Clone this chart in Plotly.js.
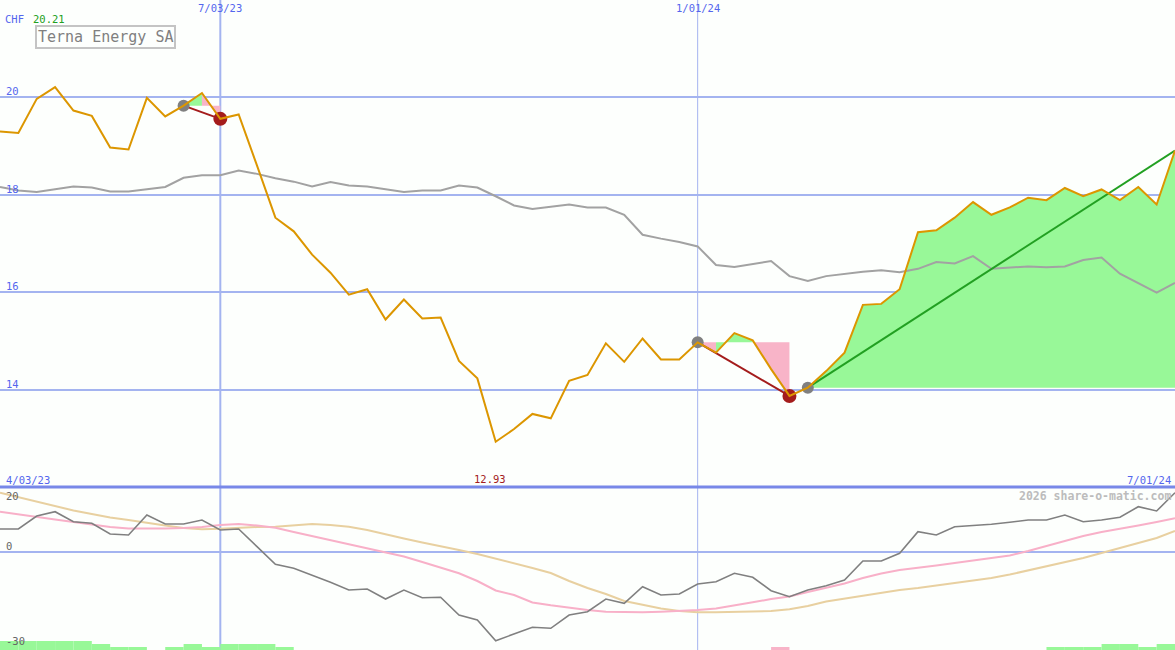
<!DOCTYPE html>
<html>
<head>
<meta charset="utf-8">
<script src="https://cdn.plot.ly/plotly-3.0.1.min.js"></script>
<style>
  html, body { margin: 0; padding: 0; background: #fdfffd; }
  #chart { width: 1175px; height: 650px; }
</style>
</head>
<body>
<div id="chart"></div>
<script>
// ---------------- DATA ----------------
const stockName = 'Terna Energy SA';
const currency = 'CHF';
const maxPriceLabel = '20.21';
const minPriceLabel = '12.93';
const firstDate = '2023-04-10';          // weekly observations (Mondays)
const nWeeks = 65;
const xTickDates = ['2023-07-03', '2024-01-01'];
const xTickText = ['7/03/23', '1/01/24'];
const startLabel = '4/03/23';
const endLabel = '7/01/24';
const priceTicks = [20, 18, 16, 14];
const oscTickLabels = ['20', '0', '-30'];

// weekly close price (CHF)
const price = [19.30, 19.27, 19.97, 20.21, 19.73, 19.62, 18.97, 18.93, 19.99, 19.61,
               19.83, 20.09, 19.56, 19.65, 18.60, 17.53, 17.25, 16.77, 16.40, 15.95,
               16.06, 15.44, 15.85, 15.46, 15.48, 14.59, 14.23, 12.93, 13.19, 13.50,
               13.41, 14.18, 14.30, 14.95, 14.57, 15.05, 14.62, 14.62, 14.97, 14.76,
               15.16, 15.01, 14.42, 13.87, 14.04, 14.38, 14.76, 15.74, 15.76, 16.06,
               17.23, 17.27, 17.53, 17.85, 17.59, 17.74, 17.94, 17.89, 18.14, 17.97,
               18.11, 17.89, 18.16, 17.80, 18.91];

// moving average of price (grey line)
const movingAvg = [18.16, 18.09, 18.06, 18.11, 18.17, 18.15, 18.07, 18.07, 18.11, 18.16,
                   18.35, 18.40, 18.40, 18.50, 18.43, 18.34, 18.27, 18.17, 18.26, 18.19,
                   18.17, 18.11, 18.06, 18.09, 18.09, 18.19, 18.15, 17.97, 17.78, 17.71,
                   17.76, 17.80, 17.74, 17.74, 17.59, 17.18, 17.10, 17.03, 16.94, 16.56,
                   16.52, 16.58, 16.64, 16.33, 16.23, 16.33, 16.38, 16.42, 16.45, 16.41,
                   16.48, 16.62, 16.59, 16.74, 16.48, 16.51, 16.53, 16.51, 16.53, 16.66,
                   16.71, 16.38, 16.18, 15.99, 16.19];

// lower panel: momentum oscillator and two smoothed lines
const momentum = [7.12, 7.12, 11.10, 12.42, 9.36, 8.87, 5.58, 5.28, 11.41, 8.65,
                  8.65, 9.88, 6.81, 7.12, 1.69, -3.71, -4.94, -6.99, -9.23, -11.60,
                  -11.29, -14.36, -11.60, -13.96, -13.83, -19.26, -20.80, -27.15, -25.09, -23.04,
                  -23.34, -19.26, -18.25, -14.36, -15.67, -10.58, -13.13, -12.82, -9.75, -9.05,
                  -6.47, -7.70, -11.81, -13.65, -11.60, -10.28, -8.53, -2.70, -2.70, -0.34,
                  6.29, 5.28, 7.82, 8.13, 8.56, 9.17, 9.88, 9.88, 11.41, 9.36,
                  9.88, 10.71, 13.96, 12.64, 18.25];
const signalFast = [12.42, 11.56, 10.80, 10.03, 9.26, 8.50, 7.73, 7.27, 7.21, 7.27,
                    7.42, 7.73, 8.34, 8.65, 8.19, 7.52, 6.20, 4.97, 3.74, 2.42,
                    1.20, -0.09, -1.32, -3.01, -4.69, -6.47, -8.83, -11.75, -13.13, -15.43,
                    -16.29, -17.02, -17.73, -18.25, -18.44, -18.44, -18.25, -18.04, -17.73, -17.27,
                    -16.41, -15.37, -14.36, -13.59, -12.21, -10.98, -9.60, -7.91, -6.53, -5.46,
                    -4.85, -4.08, -3.31, -2.55, -1.87, -1.01, 0.37, 1.90, 3.44, 4.97,
                    6.20, 7.12, 8.19, 9.26, 10.40];
const signalSlow = [18.25, 16.93, 15.55, 14.17, 12.79, 11.72, 10.64, 9.88, 8.96, 8.19,
                    7.42, 7.02, 7.21, 7.52, 7.73, 7.82, 8.19, 8.65, 8.34, 7.82,
                    6.81, 5.43, 4.20, 2.98, 1.90, 0.67, -0.55, -1.93, -3.31, -4.85,
                    -6.38, -8.83, -10.98, -12.82, -14.97, -16.20, -17.27, -18.04, -18.44, -18.44,
                    -18.34, -18.25, -18.04, -17.52, -16.50, -15.12, -14.20, -13.44, -12.52, -11.60,
                    -10.98, -10.21, -9.45, -8.83, -7.91, -6.84, -5.61, -4.23, -3.01, -1.78,
                    -0.25, 1.29, 2.82, 4.36, 6.50];

// signal strength bars at the bottom (per week)
const buyStrength = [3, 3, 3, 3, 3, 2, 1, 1, 0, 1,
                     2, 1, 2, 2, 2, 1, 0, 0, 0, 0,
                     0, 0, 0, 0, 0, 0, 0, 0, 0, 0,
                     0, 0, 0, 0, 0, 0, 0, 0, 0, 0,
                     0, 0, 0, 0, 0, 0, 0, 0, 0, 0,
                     0, 0, 0, 0, 0, 0, 0, 1, 1, 1,
                     2, 2, 1, 2, 0];
const sellStrength = [0, 0, 0, 0, 0, 0, 0, 0, 0, 0,
                      0, 0, 0, 0, 0, 0, 0, 0, 0, 0,
                      0, 0, 0, 0, 0, 0, 0, 0, 0, 0,
                      0, 0, 0, 0, 0, 0, 0, 0, 0, 0,
                      0, 0, 1, 0, 0, 0, 0, 0, 0, 0,
                      0, 0, 0, 0, 0, 0, 0, 0, 0, 0,
                      0, 0, 0, 0, 0];

// trades (week index of entry / exit); open = still running
const tradeEntry = [10, 38, 44];
const tradeExit  = [12, 43, 64];
const tradeOpen  = [false, false, true];

// ---------------- STYLE ----------------
const BG = '#fdfffd';
const GRID = '#a4b4f0';
const AXISBLUE = '#5466ee';
const SEP = '#7888e8';
const ORANGE = '#dc9600';
const GREY = '#a2a2a2';
const DARKGREY = '#808080';
const GREENFILL = '#98f898';
const PINKFILL = '#f8b4c8';
const DARKRED = '#a41c1c';
const GREENLINE = '#22a022';
const TAN = '#e8d0a0';
const PINKLINE = '#f8b0c8';
const FONT = 'DejaVu Sans Mono, Liberation Mono, monospace';
const vLineWidths = [2, 1];

// ---------------- BUILD ----------------
const dates = [];
{
  const d0 = new Date(firstDate + 'T00:00:00Z');
  for (let i = 0; i < nWeeks; i++) {
    const d = new Date(d0.getTime() + i * 7 * 86400000);
    dates.push(d.toISOString().slice(0, 10));
  }
}
const WEEK_MS = 7 * 86400000;

const traces = [];

// trade fills (per interval coloured by direction vs entry price)
tradeEntry.forEach((e, k) => {
  const x = tradeExit[k];
  const base = price[e];
  const segs = [];
  for (let i = e; i < x; i++) {
    const col = price[i + 1] >= base ? GREENFILL : PINKFILL;
    if (segs.length && segs[segs.length - 1].col === col) segs[segs.length - 1].b = i + 1;
    else segs.push({ a: i, b: i + 1, col: col });
  }
  segs.forEach(s => {
    const xs = [dates[s.a]], ys = [base];
    for (let j = s.a; j <= s.b; j++) { xs.push(dates[j]); ys.push(price[j]); }
    xs.push(dates[s.b]); ys.push(base);
    xs.push(dates[s.a]); ys.push(base);
    traces.push({ x: xs, y: ys, type: 'scatter', mode: 'lines', fill: 'toself',
      fillcolor: s.col, line: { width: 0, color: s.col }, hoverinfo: 'skip',
      xaxis: 'x', yaxis: 'y' });
  });
});

// moving average
traces.push({ x: dates, y: movingAvg, type: 'scatter', mode: 'lines',
  line: { color: GREY, width: 2 }, xaxis: 'x', yaxis: 'y' });

// trade lines
tradeEntry.forEach((e, k) => {
  const x = tradeExit[k];
  const col = price[x] >= price[e] ? GREENLINE : DARKRED;
  traces.push({ x: [dates[e], dates[x]], y: [price[e], price[x]], type: 'scatter',
    mode: 'lines', line: { color: col, width: 2 }, xaxis: 'x', yaxis: 'y' });
});

// entry / exit markers
traces.push({ x: tradeEntry.map(i => dates[i]), y: tradeEntry.map(i => price[i]),
  type: 'scatter', mode: 'markers', marker: { color: DARKGREY, size: 12 },
  xaxis: 'x', yaxis: 'y' });
const closedExits = tradeExit.filter((v, k) => !tradeOpen[k]);
traces.push({ x: closedExits.map(i => dates[i]), y: closedExits.map(i => price[i]),
  type: 'scatter', mode: 'markers', marker: { color: DARKRED, size: 14 },
  xaxis: 'x', yaxis: 'y' });

// price
traces.push({ x: dates, y: price, type: 'scatter', mode: 'lines',
  line: { color: ORANGE, width: 2 }, xaxis: 'x', yaxis: 'y' });

// lower panel
traces.push({ x: dates, y: buyStrength, type: 'bar', marker: { color: GREENFILL, line: { width: 0 } },
  width: WEEK_MS, offset: 0, xaxis: 'x', yaxis: 'y3' });
traces.push({ x: dates, y: sellStrength, type: 'bar', marker: { color: PINKFILL, line: { width: 0 } },
  width: WEEK_MS, offset: 0, xaxis: 'x', yaxis: 'y3' });
traces.push({ x: dates, y: signalSlow, type: 'scatter', mode: 'lines',
  line: { color: TAN, width: 2 }, xaxis: 'x', yaxis: 'y2' });
traces.push({ x: dates, y: signalFast, type: 'scatter', mode: 'lines',
  line: { color: PINKLINE, width: 2 }, xaxis: 'x', yaxis: 'y2' });
traces.push({ x: dates, y: momentum, type: 'scatter', mode: 'lines',
  line: { color: DARKGREY, width: 1.6 }, xaxis: 'x', yaxis: 'y2' });

const W = 1175, H = 650;
const SPLIT = 1 - 487 / H;
const px = v => v / W;
const py = v => 1 - v / H;

const annotations = [];
const ann = (o) => annotations.push(Object.assign({ showarrow: false, font: { family: FONT, size: 10.5, color: AXISBLUE } }, o));

ann({ text: currency, xref: 'paper', yref: 'paper', x: px(3), y: py(19), xanchor: 'left', yanchor: 'middle' });
ann({ text: maxPriceLabel, xref: 'paper', yref: 'paper', x: px(31), y: py(19), xanchor: 'left', yanchor: 'middle',
  font: { family: FONT, size: 10.5, color: GREENLINE } });
ann({ text: stockName, xref: 'paper', yref: 'paper', x: px(105), y: py(37), xanchor: 'center', yanchor: 'middle',
  font: { family: FONT, size: 15, color: '#808080' }, bordercolor: '#c4c4c4', borderwidth: 2, borderpad: 1 });
xTickDates.forEach((d, i) => ann({ text: xTickText[i], xref: 'x', yref: 'paper', x: d, y: py(8), xanchor: 'center', yanchor: 'middle' }));
priceTicks.forEach(v => ann({ text: String(v), xref: 'paper', yref: 'y', x: px(4), y: v, xanchor: 'left', yanchor: 'bottom', yshift: -2 }));
ann({ text: startLabel, xref: 'paper', yref: 'paper', x: px(4), y: py(480), xanchor: 'left', yanchor: 'middle' });
ann({ text: endLabel, xref: 'paper', yref: 'paper', x: px(1173), y: py(480), xanchor: 'right', yanchor: 'middle' });
const minIdx = price.indexOf(Math.min(...price));
ann({ text: minPriceLabel, xref: 'x', yref: 'paper', x: dates[minIdx], y: py(479), xanchor: 'center', yanchor: 'middle',
  xshift: -6, font: { family: FONT, size: 10.5, color: DARKRED } });
ann({ text: '<b>2026 share-o-matic.com</b>', xref: 'paper', yref: 'paper', x: px(1173), y: py(496), xanchor: 'right', yanchor: 'middle',
  font: { family: FONT, size: 11.5, color: '#bcbcbc' } });
ann({ text: oscTickLabels[0], xref: 'paper', yref: 'paper', x: px(4), y: py(496), xanchor: 'left', yanchor: 'middle',
  font: { family: FONT, size: 10.5, color: '#666666' } });
ann({ text: oscTickLabels[1], xref: 'paper', yref: 'paper', x: px(4), y: py(546), xanchor: 'left', yanchor: 'middle',
  font: { family: FONT, size: 10.5, color: '#666666' } });
ann({ text: oscTickLabels[2], xref: 'paper', yref: 'paper', x: px(4), y: py(641), xanchor: 'left', yanchor: 'middle',
  font: { family: FONT, size: 10.5, color: '#666666' } });

const shapes = [];
xTickDates.forEach((d, i) => shapes.push({ type: 'line', xref: 'x', yref: 'paper', x0: d, x1: d, y0: 0, y1: 1,
  line: { color: GRID, width: vLineWidths[i] }, layer: 'below' }));
shapes.push({ type: 'line', xref: 'paper', yref: 'paper', x0: 0, x1: 1, y0: SPLIT, y1: SPLIT,
  line: { color: SEP, width: 3 }, layer: 'above' });

const layout = {
  width: W, height: H,
  margin: { l: 0, r: 0, t: 0, b: 0, pad: 0 },
  paper_bgcolor: BG, plot_bgcolor: BG,
  showlegend: false,
  hovermode: false,
  barmode: 'overlay',
  xaxis: { type: 'date', range: [dates[0], dates[nWeeks - 1]], showgrid: false, zeroline: false,
    showticklabels: false, showline: false, ticks: '', anchor: 'y2' },
  yaxis: { domain: [SPLIT, 1], range: [12, 22], tickvals: priceTicks, showgrid: true, gridcolor: GRID,
    gridwidth: 2, zeroline: false, showticklabels: false, ticks: '', showline: false, anchor: 'x' },
  yaxis2: { domain: [0, SPLIT], range: [-30, 20], tickvals: [0], showgrid: true, gridcolor: GRID,
    gridwidth: 2, zeroline: false, showticklabels: false, ticks: '', showline: false, anchor: 'x' },
  yaxis3: { overlaying: 'y2', range: [0, (H * SPLIT) / 3], visible: false, showgrid: false, zeroline: false, anchor: 'x' },
  annotations: annotations,
  shapes: shapes
};

Plotly.newPlot('chart', traces, layout, { displayModeBar: false, staticPlot: true });
</script>
</body>
</html>
